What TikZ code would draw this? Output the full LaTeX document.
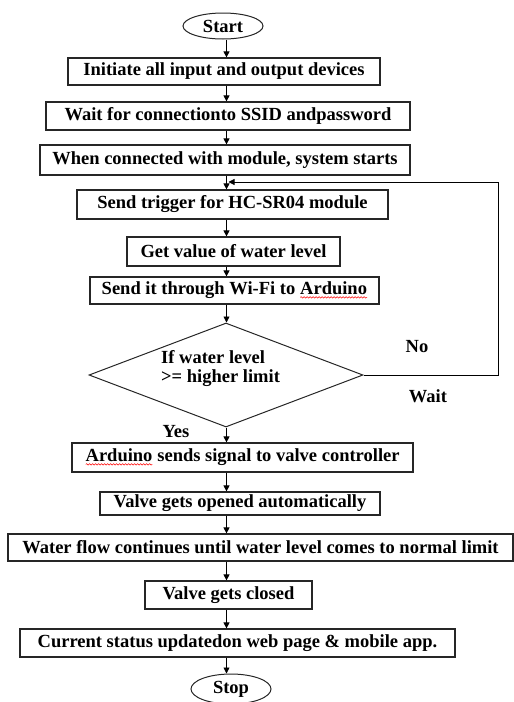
\documentclass[tikz,border=0pt]{standalone}
\usepackage{fontspec}
\setmainfont{Liberation Serif}
\usetikzlibrary{arrows.meta,shapes.geometric,decorations.pathmorphing}
\newcommand{\spellerr}[1]{\tikz[baseline=(w.base)]{\node[draw=none, inner sep=0pt, outer sep=0pt, minimum width=0pt, minimum height=0pt] (w) {#1};
  \draw[red, line width=0.5pt, decorate, decoration={snake, amplitude=0.7pt, segment length=3pt}]
  ([yshift=-2.5pt]w.base west) -- ([yshift=-2.5pt]w.base east);}}
\begin{document}
\begin{tikzpicture}[x=1pt,y=-1pt,
  font=\fontsize{18.5}{19}\selectfont\bfseries,
  box/.style={draw=black!85, line width=1.2pt, inner sep=0pt, minimum width=#1, minimum height=28pt},
  term/.style={ellipse, draw=black!85, line width=1pt, minimum width=80pt, minimum height=26pt, inner sep=0pt},
  dec/.style={diamond, draw=black!85, line width=1pt, minimum width=274pt, minimum height=104pt, inner sep=0pt},
  arr/.style={-{Triangle[length=6pt,width=6pt]}, line width=0.8pt},
  lbl/.style={inner sep=0pt}]
\useasboundingbox (0,0) rectangle (514,702);
\coordinate (ax) at (226.5,0);

\node[term] (st) at (223,26) {Start};
\node[box=312pt, minimum height=27pt] (b1) at (224,71.5) {Initiate all input and output devices};
\node[box=364pt] (b2) at (228,116) {Wait for connectionto SSID andpassword};
\node[box=370pt, minimum height=30pt] (b3) at (225,160) {When connected with module, system starts};
\node[box=311pt, minimum height=29pt] (b4) at (232.5,204.5) {Send trigger for HC-SR04 module};
\node[box=213pt, minimum height=29pt] (b5) at (233.5,251.5) {Get value of water level};
\node[box=289pt, minimum height=27pt] (b6) at (234.5,290.5) {Send it through Wi-Fi to \spellerr{Arduino}};
\node[dec] (dec) at (226,375) {};
\node[lbl, align=left, anchor=west] (dq) at (161,369) {If water level\\>= higher limit};
\node[box=341pt, minimum height=29pt] (b7) at (242.5,457.5) {\spellerr{Arduino} sends signal to valve controller};
\node[box=280pt, minimum height=23pt] (b8) at (240,503.5) {Valve gets opened automatically};
\node[box=505pt, minimum height=27pt] (b9) at (260.5,547.5) {Water flow continues until water level comes to normal limit};
\node[box=167pt] (b10) at (228.5,595) {Valve gets closed};
\node[box=435pt] (b11) at (237.5,643) {Current status updatedon web page \& mobile app.};
\node[term, minimum height=30pt] (sp) at (231,689) {Stop};

\node[lbl] (no) at (417,347) {No};
\node[lbl] (wait) at (428,396) {Wait};
\node[lbl] (yes) at (176,432) {Yes};

\draw[arr] (st.south -| ax) -- (b1.north -| ax);
\draw[arr] (b1.south -| ax) -- (b2.north -| ax);
\draw[arr] (b2.south -| ax) -- (b3.north -| ax);
\draw[arr] (b3.south -| ax) -- (b4.north -| ax);
\draw[arr] (b4.south -| ax) -- (b5.north -| ax);
\draw[arr] (b5.south -| ax) -- (b6.north -| ax);
\draw[arr] (b6.south -| ax) -- (dec.north -| ax);
\draw[arr] (dec.south -| ax) -- (b7.north -| ax);
\draw[arr] (b7.south -| ax) -- (b8.north -| ax);
\draw[arr] (b8.south -| ax) -- (b9.north -| ax);
\draw[arr] (b9.south -| ax) -- (b10.north -| ax);
\draw[arr] (b10.south -| ax) -- (b11.north -| ax);
\draw[arr] (b11.south -| ax) -- (sp.north -| ax);

\coordinate (loopx) at (498,0);
\coordinate (loopend) at (228.5,182);
\draw[arr] (dec.east) -| (loopx |- loopend) -- (loopend);
\end{tikzpicture}
\end{document}
